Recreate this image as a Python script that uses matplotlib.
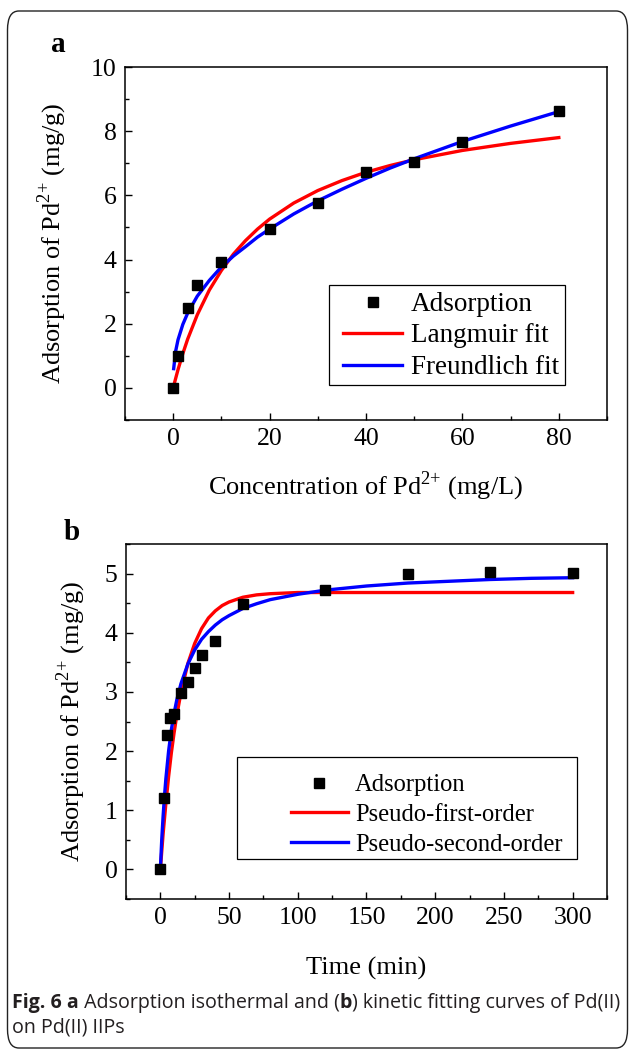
import numpy as np
import matplotlib
matplotlib.use('Agg')
import matplotlib.pyplot as plt
from matplotlib.patches import FancyBboxPatch, Rectangle
from matplotlib.ticker import MultipleLocator

plt.rcParams['font.family'] = ['Liberation Serif', 'DejaVu Serif']
plt.rcParams['mathtext.fontset'] = 'custom'
plt.rcParams['mathtext.rm'] = 'Liberation Serif'

# panel a: isotherm
conc = [0, 1, 3, 5, 10, 20, 30, 40, 50, 60, 80]
q_iso = [0.0, 1.0, 2.5, 3.2, 3.92, 4.95, 5.75, 6.72, 7.05, 7.65, 8.62]

lang_x = [0.2, 1, 2, 3, 5, 7.5, 10, 12.5, 15, 17.5, 20, 25, 30, 35, 40, 45, 50, 60, 70, 80]
lang_y = [0.12, 0.57, 1.07, 1.52, 2.28, 3.05, 3.66, 4.17, 4.59, 4.95, 5.26, 5.76, 6.15,
          6.46, 6.72, 6.93, 7.11, 7.40, 7.62, 7.80]

freu_x = [0.1, 0.5, 1, 2, 3, 5, 7.5, 10, 12.5, 15, 17.5, 20, 25, 30, 35, 40, 45, 50, 60, 70, 80]
freu_y = [0.60, 1.14, 1.50, 1.98, 2.33, 2.86, 3.35, 3.77, 4.11, 4.40, 4.70, 4.95, 5.42, 5.83,
          6.19, 6.53, 6.85, 7.14, 7.68, 8.16, 8.61]

# panel b: kinetics
time = [0, 3, 5, 7, 10, 15, 20, 25, 30, 40, 60, 120, 180, 240, 300]
q_kin = [0.0, 1.21, 2.27, 2.56, 2.63, 2.99, 3.17, 3.41, 3.62, 3.86, 4.48, 4.73, 5.0, 5.03, 5.01]

pfo_x = [0, 2, 4, 6, 8, 10, 12, 15, 20, 25, 30, 35, 40, 45, 50, 60, 70, 80, 100, 150, 200, 250, 300]
pfo_y = [0, 0.60, 1.11, 1.57, 1.97, 2.31, 2.61, 2.99, 3.48, 3.82, 4.07, 4.25, 4.37, 4.46, 4.52,
         4.60, 4.64, 4.66, 4.68, 4.68, 4.68, 4.68, 4.68]

pso_x = [0, 1, 2, 3, 4, 6, 8, 10, 12, 15, 20, 25, 30, 35, 40, 45, 50, 60, 70, 80, 100, 120,
         150, 180, 210, 240, 270, 300]
pso_y = [0, 0.50, 0.90, 1.24, 1.53, 2.00, 2.36, 2.64, 2.87, 3.14, 3.47, 3.71, 3.89, 4.02, 4.13,
         4.22, 4.29, 4.41, 4.49, 4.56, 4.65, 4.72, 4.79, 4.84, 4.87, 4.90, 4.92, 4.93]

ylab = 'Adsorption of Pd$^{2{+}}$ (mg/g)'

fig = plt.figure(figsize=(6.3, 10.5), dpi=100)

# outer frame
frame = FancyBboxPatch((7.5 / 630, 2 / 1050), 620 / 630, 1037 / 1050,
                       boxstyle='round,pad=0,rounding_size=0.018',
                       transform=fig.transFigure, fill=False,
                       edgecolor='#222222', linewidth=1.0)
fig.patches.append(frame)

ax1 = fig.add_axes([125 / 630, 1 - 420 / 1050, 482 / 630, 353 / 1050])
ax2 = fig.add_axes([126 / 630, 1 - 899 / 1050, 481 / 630, 355 / 1050])


def style(ax):
    for s in ax.spines.values():
        s.set_linewidth(1.1)
    ax.tick_params(which='both', direction='in', labelsize=18.5, width=1.0,
                   top=False, right=False, pad=6)
    ax.tick_params(which='major', length=5)
    ax.tick_params(which='minor', length=3)


def legend_box(ax, x0, y0, w, h):
    ax.add_patch(Rectangle((x0, y0), w, h, transform=ax.transAxes, fill=False,
                           edgecolor='black', linewidth=0.9, zorder=4))


ax1.plot(conc, q_iso, 's', color='black', ms=7, label='Adsorption', zorder=3)
ax1.plot(lang_x, lang_y, color='#ff0000', lw=2.4, label='Langmuir fit')
ax1.plot(freu_x, freu_y, color='#0000ff', lw=2.4, label='Freundlich fit')
ax1.set_xlim(-10, 90)
ax1.set_ylim(-1, 10)
ax1.xaxis.set_major_locator(MultipleLocator(20))
ax1.xaxis.set_minor_locator(MultipleLocator(10))
ax1.yaxis.set_major_locator(MultipleLocator(2))
ax1.yaxis.set_minor_locator(MultipleLocator(1))
style(ax1)
ax1.set_xlabel('Concentration of Pd$^{2{+}}$ (mg/L)', fontsize=19, labelpad=14)
ax1.set_ylabel(ylab, fontsize=19, labelpad=16)
ax1.legend(loc='center left', bbox_to_anchor=(0.452, 0.238), fontsize=19.5,
           frameon=False, handlelength=2.2, handletextpad=0.3, borderpad=0,
           labelspacing=0.24, borderaxespad=0)
legend_box(ax1, 0.423, 0.099, 0.49, 0.283)
fig.text(58 / 630, 1 - 45 / 1050, 'a', fontsize=21, fontweight='bold',
         ha='center', va='center')

ax2.plot(time, q_kin, 's', color='black', ms=7, label='Adsorption', zorder=3)
ax2.plot(pfo_x, pfo_y, color='#ff0000', lw=2.4, label='Pseudo-first-order')
ax2.plot(pso_x, pso_y, color='#0000ff', lw=2.4, label='Pseudo-second-order')
ax2.set_xlim(-25, 325)
ax2.set_ylim(-0.5, 5.5)
ax2.xaxis.set_major_locator(MultipleLocator(50))
ax2.xaxis.set_minor_locator(MultipleLocator(25))
ax2.yaxis.set_major_locator(MultipleLocator(1))
ax2.yaxis.set_minor_locator(MultipleLocator(0.5))
style(ax2)
ax2.set_xlabel('Time (min)', fontsize=19, labelpad=20)
ax2.set_ylabel(ylab, fontsize=19, labelpad=12)
ax2.legend(loc='center left', bbox_to_anchor=(0.343, 0.237), fontsize=17.7,
           frameon=False, handlelength=2.3, handletextpad=0.3, borderpad=0,
           labelspacing=0.3, borderaxespad=0)
legend_box(ax2, 0.231, 0.113, 0.707, 0.287)
fig.text(72 / 630, 1 - 532 / 1050, 'b', fontsize=21, fontweight='bold',
         ha='center', va='center')

# caption with mixed bold runs, placed piece by piece
cap_kw = dict(fontsize=14.1, color='#231f20', family=['Open Sans', 'DejaVu Sans'])
line1 = [('Fig. 6 a', 'bold'), (' Adsorption isothermal and (', 'normal'),
         ('b', 'bold'), (') kinetic fitting curves of Pd(II)', 'normal')]
renderer = fig.canvas.get_renderer()
x = 12
for txt, w in line1:
    t = fig.text(x / 630, 1 - 1008 / 1050, txt, fontweight=w, va='baseline',
                 ha='left', **cap_kw)
    x += t.get_window_extent(renderer).width
fig.text(12 / 630, 1 - 1033 / 1050, 'on Pd(II) IIPs', va='baseline', ha='left', **cap_kw)

fig.savefig('out.png', dpi=100)
